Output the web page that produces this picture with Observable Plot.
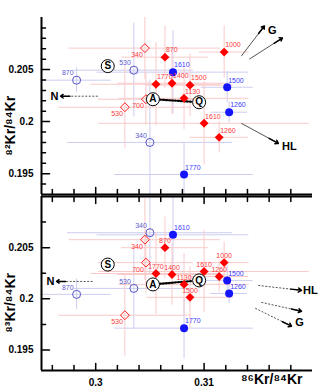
<!DOCTYPE html>
<html>
<head>
<meta charset="utf-8">
<script src="https://cdn.jsdelivr.net/npm/d3@7"></script>
<script src="https://cdn.jsdelivr.net/npm/@observablehq/plot@0.6"></script>
<style>
html, body { margin: 0; padding: 0; background: #fff; }
#chart svg { display: block; }
</style>
</head>
<body>
<div id="chart"></div>
<script>
// ---------- data ----------
const series = ["ro","ro","ro","bo","bo","bo","rf","rf","rf","rf","rf","rf","rf","rf","bf","bf","bf","bf"];
const temps  = ["340","700","530","870","530","340","870","1000","1770","1400","1500","1130","1610","1260","1610","1500","1260","1770"];
const r86    = [0.30454,0.30463,0.30269,0.29824,0.30352,0.30500,0.30639,0.31185,0.30556,0.30704,0.30870,0.30815,0.31000,0.31139,0.30713,0.31213,0.31231,0.30815];
const r86Err = [0.0070,0.0044,0.0061,0.0032,0.0055,0.0076,0.0040,0.0023,0.0060,0.0050,0.0040,0.0060,0.0097,0.0027,0.0070,0.0024,0.0017,0.0064];
const r82    = [0.20706,0.20215,0.20138,0.20398,0.20494,0.19800,0.20619,0.20668,0.20359,0.20369,0.20350,0.20224,0.19984,0.19849,0.20475,0.20330,0.20090,0.19492];
const r82Err = [0.0030,0.0025,0.0040,0.0012,0.0045,0.0060,0.0030,0.0025,0.0040,0.0030,0.0030,0.0030,0.0040,0.0015,0.0040,0.0015,0.0010,0.0030];
const r83    = [0.20578,0.20354,0.19840,0.20044,0.20102,0.20646,0.20500,0.20354,0.20248,0.20238,0.20015,0.20141,0.20267,0.20218,0.20626,0.20180,0.20053,0.19714];
const r83Err = [0.0040,0.0030,0.0040,0.0015,0.0040,0.0040,0.0030,0.0020,0.0040,0.0030,0.0030,0.0030,0.0040,0.0015,0.0040,0.0015,0.0010,0.0030];
const labelSide82 = ["sw","sw","sw","nw","nw","nw","ne","ne","ne","ne","ne","ne","ne","ne","ne","ne","ne","ne"];
const labelSide83 = ["sw","sw","sw","nw","nw","nw","n","n","n","n","n","n","n","n","ne","ne","ne","ne"];

// end-member components (circled letters)
const compNames = ["S","A","Q"];
const compX   = [0.30111,0.30528,0.30954];
const compY82 = [0.20533,0.20215,0.20186];
const compY83 = [0.20335,0.20141,0.20180];

// trend arrows [x1,y1,x2,y2] and their labels
const nArrow82  = [0.30019,0.20244,0.29676,0.20244];
const gArrows82 = [[0.31343,0.20629,0.31556,0.20918],[0.31417,0.20600,0.31722,0.20803]];
const hlArrow82 = [0.31343,0.19984,0.31685,0.19791];
const endLabels82 = [["N",0.29620,0.20244],["G",0.31630,0.20880],["HL",0.31787,0.19762]];

const nArrow83  = [0.29972,0.20170,0.29639,0.20170];
const gArrows83 = [[0.31528,0.19966,0.31898,0.19879],[0.31472,0.19908,0.31806,0.19733]];
const hlArrow83 = [0.31500,0.20131,0.31898,0.20083];
const endLabels83 = [["N",0.29583,0.20170],["HL",0.31981,0.20083],["G",0.31880,0.19772]];

// axes
const xDomain = [0.295, 0.320];
const yDomain = [0.193, 0.210];
const xTicksMinor = [0.296,0.298,0.302,0.304,0.306,0.308,0.312,0.314,0.316,0.318];
const xTicksMajor = [0.30,0.31];
const xTickLabels = ["0.3","0.31"];
const yTicksMajor = [0.195,0.200,0.205];
const yTickLabels = ["0.195","0.2","0.205"];
const yTicksMinor82 = [0.194,0.196,0.197,0.198,0.199,0.201,0.202,0.203,0.204,0.206,0.207,0.208,0.209];
const yTicksMinor83 = [0.1975,0.2025,0.2075];
const yTitleCenter = 0.1996;
const xTitle = "⁸⁶Kr/⁸⁴Kr";
const yTitle82 = "⁸²Kr/⁸⁴Kr";
const yTitle83 = "⁸³Kr/⁸⁴Kr";

// ---------- styling ----------
const FONT = "'Liberation Sans', Arial, Helvetica, sans-serif";
const STYLE = {
  bo: {symbol: "circle",   fill: "none",    stroke: "#5656c8", r: 4,   label: "#5a5ad0", bar: "#cdcdf1"},
  bf: {symbol: "circle",   fill: "#1414ff", stroke: "none",    r: 4,   label: "#3a3aff", bar: "#cdcdf1"},
  ro: {symbol: "diamond2", fill: "none",    stroke: "#ff2020", r: 4,   label: "#ff3a3a", bar: "#f9caca"},
  rf: {symbol: "diamond2", fill: "#ff0000", stroke: "none",    r: 4,   label: "#ff3a3a", bar: "#f9caca"}
};
const SIDE = {
  ne: {dx: 1,  dy: -7, textAnchor: "start"},
  nw: {dx: -3, dy: -7, textAnchor: "end"},
  sw: {dx: -2, dy: 7,  textAnchor: "end"},
  n:  {dx: 0,  dy: -7, textAnchor: "middle"}
};
const tickShape = {draw(ctx, l) { ctx.moveTo(0, 0); ctx.lineTo(0, -l); }};

function headSeg(a) {
  const f = 0.25;
  return [a[2] - (a[2] - a[0]) * f, a[3] - (a[3] - a[1]) * f, a[2], a[3]];
}

function arrowMarks(list, dashed, bodyStroke) {
  const marks = [];
  marks.push(Plot.link(list, {
    x1: d => d[0], y1: d => d[1], x2: d => d[2], y2: d => d[3],
    stroke: bodyStroke, strokeWidth: 1, strokeDasharray: dashed ? "2,1.5" : null
  }));
  marks.push(Plot.arrow(list.map(headSeg), {
    x1: d => d[0], y1: d => d[1], x2: d => d[2], y2: d => d[3],
    stroke: "black", strokeWidth: 1.5, headLength: 8, headAngle: 70
  }));
  return marks;
}

function panel({ys, yErrs, sides, compY, nArrow, gArrows, hlArrow, endLabels, yMinor, yTitle, isTop}) {
  const rows = series.map((s, i) => ({s, t: temps[i], x: r86[i], xe: r86Err[i], y: ys[i], ye: yErrs[i], side: sides[i]}));
  const comps = compNames.map((n, i) => ({n, x: compX[i], y: compY[i]}));
  const marks = [];

  // error bars
  for (const k of ["bo", "bf", "ro", "rf"]) {
    const d = rows.filter(r => r.s === k);
    marks.push(Plot.ruleY(d, {y: "y", x1: r => r.x - r.xe, x2: r => r.x + r.xe, stroke: STYLE[k].bar, strokeWidth: 1, clip: true}));
    marks.push(Plot.ruleX(d, {x: "x", y1: r => r.y - r.ye, y2: r => r.y + r.ye, stroke: STYLE[k].bar, strokeWidth: 1, clip: true}));
  }

  // arrows
  marks.push(...arrowMarks([nArrow], true, "#555"));
  marks.push(...arrowMarks(gArrows, !isTop, "#555"));
  marks.push(...arrowMarks([hlArrow], !isTop, "#555"));
  // A -> Q dotted mixing line
  marks.push(Plot.arrow([[comps[1], comps[2]]], {
    x1: d => d[0].x, y1: d => d[0].y, x2: d => d[1].x, y2: d => d[1].y,
    stroke: "black", strokeWidth: 2.2, strokeDasharray: "1.2,1.8", headLength: 0, insetStart: 7, insetEnd: 7
  }));
  marks.push(Plot.text(endLabels, {x: d => d[1], y: d => d[2], text: d => d[0], fontSize: 11, fontWeight: "bold", fill: "black"}));

  // markers
  for (const k of ["bo", "bf", "ro", "rf"]) {
    const st = STYLE[k];
    marks.push(Plot.dot(rows.filter(r => r.s === k), {x: "x", y: "y", symbol: st.symbol, r: st.r, fill: st.fill, stroke: st.stroke, strokeWidth: 1}));
  }
  // sample labels
  for (const k of ["bo", "bf", "ro", "rf"]) {
    for (const side of Object.keys(SIDE)) {
      const d = rows.filter(r => r.s === k && r.side === side);
      if (!d.length) continue;
      marks.push(Plot.text(d, {x: "x", y: "y", text: "t", fill: STYLE[k].label, fontSize: 7, ...SIDE[side]}));
    }
  }

  // components
  marks.push(Plot.dot(comps, {x: "x", y: "y", r: 6.5, fill: "white", stroke: "black", strokeWidth: 1}));
  marks.push(Plot.text(comps, {x: "x", y: "y", text: "n", fontSize: 10, fontWeight: "bold", fill: "black"}));

  // axes lines
  marks.push(Plot.ruleX([xDomain[0]], {x: d => d, stroke: "black", strokeWidth: 2}));
  marks.push(Plot.ruleY([yDomain[0]], {y: d => d, stroke: "black", strokeWidth: 2}));
  if (!isTop) marks.push(Plot.ruleY([yDomain[1]], {y: d => d, stroke: "black", strokeWidth: 2}));

  // y ticks (inward)
  marks.push(Plot.vector(yMinor, {x: () => xDomain[0], y: d => d, rotate: 90, length: 4, anchor: "start", shape: tickShape, stroke: "black", strokeWidth: 1.5}));
  marks.push(Plot.vector(yTicksMajor, {x: () => xDomain[0], y: d => d, rotate: 90, length: 8, anchor: "start", shape: tickShape, stroke: "black", strokeWidth: 1.5}));
  // x ticks on bottom axis (pointing up)
  marks.push(Plot.vector(xTicksMinor, {x: d => d, y: () => yDomain[0], rotate: 0, length: 5, anchor: "start", shape: tickShape, stroke: "black", strokeWidth: 1.5}));
  marks.push(Plot.vector(xTicksMajor, {x: d => d, y: () => yDomain[0], rotate: 0, length: 7, anchor: "start", shape: tickShape, stroke: "black", strokeWidth: 1.5}));
  if (!isTop) {
    marks.push(Plot.vector(xTicksMinor, {x: d => d, y: () => yDomain[1], rotate: 180, length: 5, anchor: "start", shape: tickShape, stroke: "black", strokeWidth: 1.5}));
    marks.push(Plot.vector(xTicksMajor, {x: d => d, y: () => yDomain[1], rotate: 180, length: 7, anchor: "start", shape: tickShape, stroke: "black", strokeWidth: 1.5}));
  }

  // tick labels
  marks.push(Plot.axisY(yTicksMajor, {anchor: "left", tickSize: 0, tickPadding: 8, tickFormat: (d, i) => yTickLabels[i], fontSize: 10, fontWeight: "bold", label: null}));
  if (!isTop) {
    marks.push(Plot.axisX(xTicksMajor, {anchor: "bottom", tickSize: 0, tickPadding: 8, tickFormat: (d, i) => xTickLabels[i], fontSize: 10, fontWeight: "bold", label: null}));
    marks.push(Plot.text([xTitle], {frameAnchor: "bottom-right", dx: -10, dy: 13, textAnchor: "end", fontSize: 14, fontWeight: "bold", text: d => d}));
  }
  // y title
  marks.push(Plot.text([yTitle], {x: () => xDomain[0], y: () => yTitleCenter, dx: -31, rotate: -90, fontSize: 14, fontWeight: "bold", text: d => d}));

  return Plot.plot({
    width: 319,
    height: 195,
    marginLeft: 41,
    marginRight: 7,
    marginTop: isTop ? 17 : 1,
    marginBottom: isTop ? 1 : 20,
    x: {domain: xDomain, axis: null},
    y: {domain: yDomain, axis: null},
    style: {fontFamily: FONT, fontSize: "10px", background: "white", overflow: "visible", color: "black"},
    marks
  });
}

const topPanel = panel({ys: r82, yErrs: r82Err, sides: labelSide82, compY: compY82, nArrow: nArrow82, gArrows: gArrows82, hlArrow: hlArrow82, endLabels: endLabels82, yMinor: yTicksMinor82, yTitle: yTitle82, isTop: true});
const bottomPanel = panel({ys: r83, yErrs: r83Err, sides: labelSide83, compY: compY83, nArrow: nArrow83, gArrows: gArrows83, hlArrow: hlArrow83, endLabels: endLabels83, yMinor: yTicksMinor83, yTitle: yTitle83, isTop: false});
const chart = document.getElementById("chart");
chart.appendChild(topPanel);
chart.appendChild(bottomPanel);
</script>
</body>
</html>
